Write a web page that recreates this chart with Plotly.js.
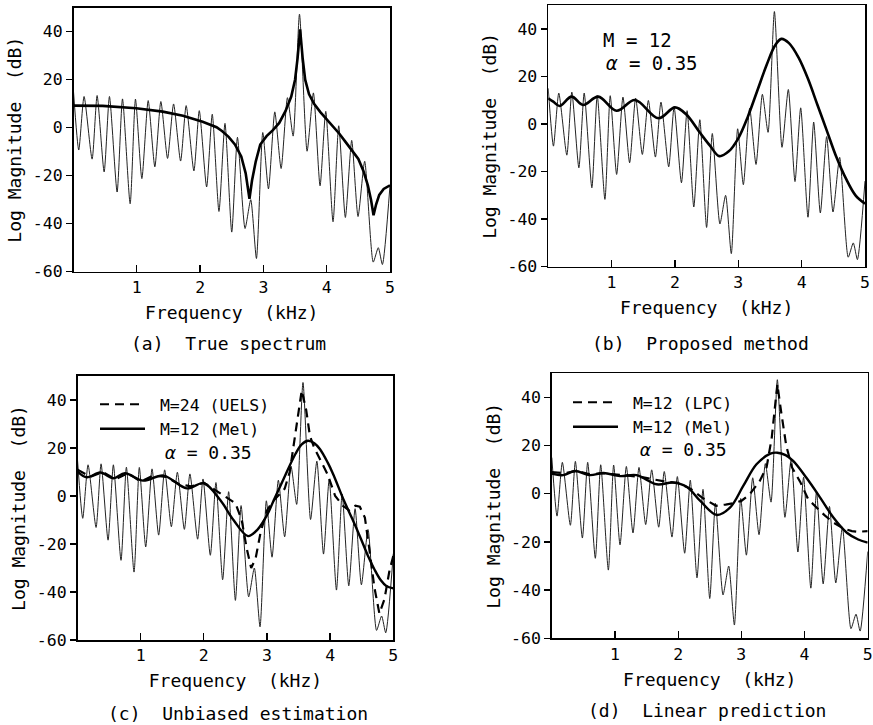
<!DOCTYPE html>
<html><head><meta charset="utf-8">
<script src="https://cdn.plot.ly/plotly-3.0.1.min.js"></script>
<style>html,body{margin:0;padding:0;background:#fff}#chart{width:873px;height:725px}</style>
</head><body><div id="chart"></div>
<script>
// ---- data ----
var trueFreq = [0, 0.083, 0.167, 0.294, 0.373, 0.484, 0.568, 0.689, 0.774, 0.895, 0.979, 1.080, 1.180, 1.285, 1.380, 1.486, 1.581, 1.692, 1.780, 1.902, 1.987, 2.103, 2.192, 2.298, 2.393, 2.500, 2.590, 2.710, 2.800, 2.890, 2.990, 3.080, 3.180, 3.280, 3.380, 3.470, 3.570, 3.690, 3.790, 3.895, 3.985, 4.100, 4.190, 4.295, 4.395, 4.495, 4.600, 4.735, 4.815, 4.880, 5.0];
var trueDb = [15, -9.3, 13, -13.1, 13.4, -18.4, 13, -26.8, 12, -31.7, 11.9, -21.2, 11.3, -16.3, 10.9, -12.8, 9.9, -13.9, 9.2, -18, 7.1, -24.7, 5.6, -34.9, 1.8, -43.5, -4, -42, -30, -54.5, -2, -25.5, 6.6, -17, 12.5, -3.5, 47.3, -9.8, 14.5, -24.2, 6.8, -39.2, 0.8, -37.4, -5.3, -37, -14, -56, -50, -57, -24];

var envAFreq = [0, 0.46, 0.99, 1.41, 1.73, 2.04, 2.26, 2.35, 2.45, 2.55, 2.65, 2.72, 2.78, 2.82, 2.88, 2.95, 3.05, 3.15, 3.25, 3.35, 3.44, 3.50, 3.54, 3.58, 3.62, 3.66, 3.72, 3.80, 3.90, 4.00, 4.10, 4.20, 4.30, 4.40, 4.50, 4.58, 4.65, 4.70, 4.74, 4.78, 4.83, 4.90, 5.0];
var envADb = [9.2, 9.1, 8.1, 6.7, 5.0, 2.5, 0.2, -1.5, -3.8, -7, -12, -19, -29.6, -22, -14, -7, -3.5, -1, 2, 7, 13, 20, 29, 41, 29, 20, 14, 10, 6.5, 3.5, 0.5, -2.5, -6, -9.5, -13, -18, -24, -30, -36.5, -32, -28, -25.5, -24];

var envBFreq = [0, 0.08, 0.18, 0.37, 0.55, 0.79, 1.08, 1.37, 1.74, 2.0, 2.18, 2.39, 2.55, 2.7, 2.85, 3.0, 3.15, 3.3, 3.45, 3.58, 3.68, 3.8, 3.95, 4.1, 4.25, 4.4, 4.55, 4.7, 4.85, 5.0];
var envBDb = [10.8, 9.4, 7.6, 11.5, 8, 11.5, 5.6, 10.1, 2.4, 7, 4, -3.5, -9, -13.5, -11.5, -6, 3, 14, 25, 33, 35.8, 34, 28, 19, 8, -3, -14, -23, -30, -33.5];

var melCFreq = [0, 0.15, 0.36, 0.57, 0.75, 1.04, 1.36, 1.73, 2.0, 2.26, 2.47, 2.7, 2.85, 3.0, 3.12, 3.27, 3.45, 3.55, 3.65, 3.75, 3.84, 3.96, 4.05, 4.22, 4.35, 4.49, 4.6, 4.7, 4.8, 4.89, 5.0];
var melCDb = [10.2, 7.8, 9.8, 7.4, 9.5, 6.4, 8.5, 3.2, 5.3, -1.7, -10, -16.7, -14, -8, -1, 7.5, 17.5, 21.5, 23, 22, 19.5, 14, 9, -2, -9.5, -18, -25, -30.5, -35, -37.5, -38.5];

var uelsFreq = [0, 0.2, 0.4, 0.6, 0.8, 1.0, 1.2, 1.4, 1.6, 1.8, 2.0, 2.2, 2.4, 2.5, 2.6, 2.68, 2.75, 2.82, 2.9, 3.0, 3.1, 3.2, 3.28, 3.36, 3.43, 3.49, 3.55, 3.62, 3.68, 3.75, 3.85, 3.96, 4.08, 4.2, 4.3, 4.4, 4.47, 4.55, 4.62, 4.7, 4.78, 4.86, 4.94, 5.0];
var uelsDb = [11, 8, 10, 7, 9.5, 6, 8.5, 8, 5, 4, 5.5, 2, -1.5, -3, -10, -22, -30, -26, -15, -6, -2, 1, 3, 10, 22, 34, 44, 36, 25, 20, 15, 9, 0, -4, -6, -4, -4.5, -9, -22, -38, -49, -43, -31, -25];

var melDFreq = [0, 0.18, 0.37, 0.6, 0.82, 1.08, 1.34, 1.66, 1.92, 2.14, 2.35, 2.61, 2.82, 3.03, 3.24, 3.46, 3.57, 3.7, 3.82, 4.03, 4.25, 4.46, 4.67, 4.85, 5.0];
var melDDb = [8.3, 7.7, 9.4, 7.7, 8.6, 7.3, 7.7, 3.9, 4.6, 2.8, -3, -8.8, -5.8, 3.2, 12.2, 16.6, 17, 16, 13.6, 6.6, -1.7, -10, -16.2, -19, -20.3];

var lpcFreq = [0, 0.2, 0.4, 0.6, 0.8, 1.0, 1.2, 1.4, 1.6, 1.8, 2.0, 2.2, 2.4, 2.6, 2.75, 2.87, 3.0, 3.13, 3.29, 3.4, 3.48, 3.53, 3.57, 3.63, 3.71, 3.8, 3.93, 4.06, 4.2, 4.32, 4.46, 4.62, 4.75, 4.85, 5.0];
var lpcDb = [9, 8.5, 9.5, 8, 8.5, 8, 7.5, 7, 6, 5, 4.5, 2, -2, -5, -4.5, -4, -3, -0.3, 5.2, 11, 23, 34, 45.4, 34, 20, 11, 5, -2.4, -6, -9, -12, -14.5, -15.5, -15.8, -15.5];

var xTickVals = [1, 2, 3, 4, 5];
var xTickText = ['1', '2', '3', '4', '5'];
var yTickVals = [-60, -40, -20, 0, 20, 40];
var yTickText = ['-60', '-40', '-20', '0', '20', '40'];

var xTitle = 'Frequency  (kHz)';
var yTitle = 'Log Magnitude  (dB)';
var captions = ['(a)  True spectrum', '(b)  Proposed method', '(c)  Unbiased estimation', '(d)  Linear prediction'];

// ---- layout ----
var FONT = 'DejaVu Sans Mono, monospace';
var W = 873, H = 725;
function px(x) { return x / W; }
function py(y) { return 1 - y / H; }

// pixel boxes of each panel: [left, right, top, bottom]
var boxes = [
  [73.5, 390, 7.7, 271.7],
  [548.2, 865, 5.1, 266.7],
  [77.5, 393.3, 376, 640],
  [551.8, 867.7, 373.2, 638.3]
];

var layout = {
  width: W, height: H,
  margin: {l: 0, r: 0, t: 0, b: 0},
  paper_bgcolor: '#ffffff', plot_bgcolor: '#ffffff',
  font: {family: FONT, size: 16.5, color: '#000'},
  showlegend: true,
  annotations: []
};

boxes.forEach(function (b, i) {
  var n = i + 1;
  var xa = {
    domain: [px(b[0]), px(b[1])], range: [0, 5], anchor: 'y' + n,
    showgrid: false, zeroline: false, showline: true, linecolor: '#000', linewidth: 1.6, mirror: true,
    ticks: 'inside', ticklen: 7, tickwidth: 1.3, tickcolor: '#000',
    tickmode: 'array', tickvals: xTickVals, ticktext: xTickText,
    tickfont: {family: FONT, size: 16.5, color: '#000'},
    title: {text: xTitle, font: {family: FONT, size: 18, color: '#000'}, standoff: 10}
  };
  var ya = {
    domain: [py(b[3]), py(b[2])], range: [-60, 50], anchor: 'x' + n,
    showgrid: false, zeroline: false, showline: true, linecolor: '#000', linewidth: 1.6, mirror: true,
    ticks: 'outside', ticklen: 6, tickwidth: 1.3, tickcolor: '#000',
    tickmode: 'array', tickvals: yTickVals, ticktext: yTickText,
    tickfont: {family: FONT, size: 16.5, color: '#000'},
    title: {text: yTitle, font: {family: FONT, size: 18, color: '#000'}, standoff: 6}
  };
  layout['xaxis' + (n === 1 ? '' : n)] = xa;
  layout['yaxis' + (n === 1 ? '' : n)] = ya;
});

var capPos = [[228, 343], [700, 343], [238, 713], [707, 710]];
captions.forEach(function (c, i) {
  layout.annotations.push({
    xref: 'paper', yref: 'paper', x: px(capPos[i][0]), y: py(capPos[i][1]),
    xanchor: 'center', yanchor: 'middle', showarrow: false, text: c,
    font: {family: FONT, size: 18, color: '#000'}
  });
});

// text labels inside panels
var textLabels = [
  {t: 'M = 12', x: 601, y: 40, s: 19},
  {t: '<i>α</i> = 0.35', x: 604, y: 63, s: 19},
  {t: '<i>α</i> = 0.35', x: 163, y: 452, s: 18},
  {t: '<i>α</i> = 0.35', x: 638, y: 449, s: 18}
];
textLabels.forEach(function (l) {
  layout.annotations.push({
    xref: 'paper', yref: 'paper', x: px(l.x), y: py(l.y),
    xanchor: 'left', yanchor: 'middle', showarrow: false, text: l.t,
    font: {family: FONT, size: l.s, color: '#000'}
  });
});

var legendCommon = {
  xanchor: 'left', yanchor: 'top', bgcolor: 'rgba(0,0,0,0)', borderwidth: 0,
  font: {family: FONT, size: 16.5, color: '#000'}, itemwidth: 45, tracegroupgap: 0,
  itemclick: false, itemdoubleclick: false
};
layout.legend = Object.assign({}, legendCommon, {x: px(95), y: py(387)});
layout.legend2 = Object.assign({}, legendCommon, {x: px(568), y: py(385)});

var NB = '\u00a0';
var thinLine = {color: '#222', width: 1, shape: 'spline', smoothing: 0.6};
var traces = [];
for (var k = 1; k <= 4; k++) {
  traces.push({x: trueFreq, y: trueDb, type: 'scatter', mode: 'lines', line: thinLine,
    xaxis: 'x' + (k === 1 ? '' : k), yaxis: 'y' + (k === 1 ? '' : k), showlegend: false, hoverinfo: 'skip'});
}
traces.push({x: envAFreq, y: envADb, type: 'scatter', mode: 'lines', line: {color: '#000', width: 2.6},
  xaxis: 'x', yaxis: 'y', showlegend: false});
traces.push({x: envBFreq, y: envBDb, type: 'scatter', mode: 'lines', line: {color: '#000', width: 2.6, shape: 'spline', smoothing: 1},
  xaxis: 'x2', yaxis: 'y2', showlegend: false});
traces.push({x: uelsFreq, y: uelsDb, type: 'scatter', mode: 'lines', name: NB + 'M=24 (UELS)', legend: 'legend',
  line: {color: '#000', width: 2.2, dash: '9px,6px'}, xaxis: 'x3', yaxis: 'y3'});
traces.push({x: melCFreq, y: melCDb, type: 'scatter', mode: 'lines', name: NB + 'M=12 (Mel)', legend: 'legend',
  line: {color: '#000', width: 2.4, shape: 'spline', smoothing: 1}, xaxis: 'x3', yaxis: 'y3'});
traces.push({x: lpcFreq, y: lpcDb, type: 'scatter', mode: 'lines', name: NB + 'M=12 (LPC)', legend: 'legend2',
  line: {color: '#000', width: 2.2, dash: '9px,6px'}, xaxis: 'x4', yaxis: 'y4'});
traces.push({x: melDFreq, y: melDDb, type: 'scatter', mode: 'lines', name: NB + 'M=12 (Mel)', legend: 'legend2',
  line: {color: '#000', width: 2.4, shape: 'spline', smoothing: 1}, xaxis: 'x4', yaxis: 'y4'});

Plotly.newPlot('chart', traces, layout, {staticPlot: true, displayModeBar: false});
</script></body></html>
